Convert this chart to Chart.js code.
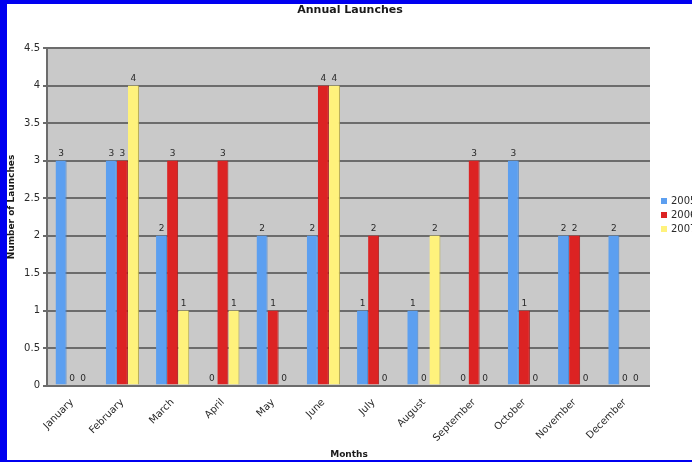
<!DOCTYPE html>
<html>
<head>
<meta charset="utf-8">
<script src="https://cdn.jsdelivr.net/npm/chart.js@4.4.1/dist/chart.umd.min.js"></script>
<style>
  html, body { margin: 0; padding: 0; background: #ffffff; overflow: hidden; }
  #wrap { width: 692px; height: 462px; position: relative; }
</style>
</head>
<body>
<div id="wrap"><canvas id="chart" width="692" height="462"></canvas></div>
<script>
// Launches per month, one array per year
const months = ['January', 'February', 'March', 'April', 'May', 'June',
                'July', 'August', 'September', 'October', 'November', 'December'];
const launches2005 = [3, 3, 2, 0, 2, 2, 1, 1, 0, 3, 2, 2];
const launches2006 = [0, 3, 3, 3, 1, 4, 2, 0, 3, 1, 2, 0];
const launches2007 = [0, 4, 1, 1, 0, 4, 0, 2, 0, 0, 0, 0];
const seriesNames = ['2005', '2006', '2007'];
const seriesColors = ['#5c9ff0', '#dc2323', '#fff27c'];
const seriesEdges = ['#4a84c8', '#a51c1c', '#b8ac50'];
const yMax = 4.5;
const yStep = 0.5;

const chartTitle = 'Annual Launches';
const xTitle = 'Months';
const yTitle = 'Number of Launches';

const FONT = '"DejaVu Sans", Verdana, sans-serif';

// White page inside a blue frame, grey plot panel
const backdrop = {
  id: 'backdrop',
  beforeDraw(chart) {
    const { ctx, chartArea: a, width, height } = chart;
    ctx.save();
    ctx.fillStyle = '#ffffff';
    ctx.fillRect(0, 0, width, height);
    ctx.fillStyle = '#c9c9c9';
    ctx.fillRect(a.left, a.top, a.right - a.left, a.bottom - a.top);
    ctx.restore();
  },
  afterDraw(chart) {
    const { ctx, width, height } = chart;
    ctx.save();
    ctx.fillStyle = '#0000f0';
    ctx.fillRect(0, 0, width, 4);
    ctx.fillRect(0, 0, 7, height);
    ctx.fillRect(0, height - 2, width, 2);
    ctx.restore();
  }
};

// Value written above every bar (zeros sit on the axis)
const valueLabels = {
  id: 'valueLabels',
  afterDatasetsDraw(chart) {
    const { ctx } = chart;
    ctx.save();
    ctx.font = '9px ' + FONT;
    ctx.fillStyle = '#2a2a2a';
    ctx.textAlign = 'center';
    ctx.textBaseline = 'bottom';
    chart.data.datasets.forEach((ds, i) => {
      const meta = chart.getDatasetMeta(i);
      meta.data.forEach((bar, j) => {
        ctx.fillText(String(ds.data[j]), bar.x, bar.y - 2);
      });
    });
    ctx.restore();
  }
};

// Title, axis titles and the legend at the right edge
const annotations = {
  id: 'annotations',
  afterDraw(chart) {
    const { ctx } = chart;
    ctx.save();
    ctx.fillStyle = '#1a1a1a';
    ctx.textAlign = 'center';
    ctx.textBaseline = 'middle';
    ctx.font = 'bold 11px ' + FONT;
    ctx.fillText(chartTitle, 350, 10);
    ctx.font = 'bold 9px ' + FONT;
    ctx.fillText(xTitle, 349, 455);
    ctx.save();
    ctx.translate(12, 207);
    ctx.rotate(-Math.PI / 2);
    ctx.fillText(yTitle, 0, 0);
    ctx.restore();

    ctx.textAlign = 'left';
    ctx.font = '10px ' + FONT;
    chart.data.datasets.forEach((ds, i) => {
      const y = 201 + i * 14;
      ctx.fillStyle = ds.backgroundColor;
      ctx.fillRect(661, y - 3, 6, 6);
      ctx.fillStyle = '#2a2a2a';
      ctx.fillText(ds.label, 671, y);
    });
    ctx.restore();
  }
};

const datasets = [launches2005, launches2006, launches2007].map((data, i) => ({
  label: seriesNames[i],
  data: data,
  backgroundColor: seriesColors[i],
  borderColor: seriesEdges[i],
  borderWidth: { top: 0, right: 1, bottom: 0, left: 0 },
  borderSkipped: false,
  categoryPercentage: 0.66,
  barPercentage: 1.0
}));

new Chart(document.getElementById('chart'), {
  type: 'bar',
  data: { labels: months, datasets: datasets },
  options: {
    responsive: false,
    animation: false,
    devicePixelRatio: 1,
    layout: { padding: { top: 48, right: 42, bottom: 0, left: 8 } },
    plugins: {
      legend: { display: false },
      title: { display: false },
      tooltip: { enabled: false }
    },
    scales: {
      x: {
        grid: { display: false },
        border: { display: false },
        ticks: {
          autoSkip: false,
          minRotation: 45,
          maxRotation: 45,
          padding: 3,
          color: '#2a2a2a',
          font: { family: FONT, size: 10 }
        },
        afterFit(scale) { scale.height = 462 - 385.5; }
      },
      y: {
        min: 0,
        max: yMax,
        ticks: {
          stepSize: yStep,
          padding: 3,
          color: '#2a2a2a',
          font: { family: FONT, size: 10 },
          callback: (v) => String(v)
        },
        grid: { color: '#6c6c6c', lineWidth: 2, tickLength: 4, drawTicks: true },
        border: { display: true, color: '#6c6c6c', width: 2 },
        afterFit(scale) { scale.width = 39; }
      }
    }
  },
  plugins: [backdrop, valueLabels, annotations]
});
</script>
</body>
</html>
